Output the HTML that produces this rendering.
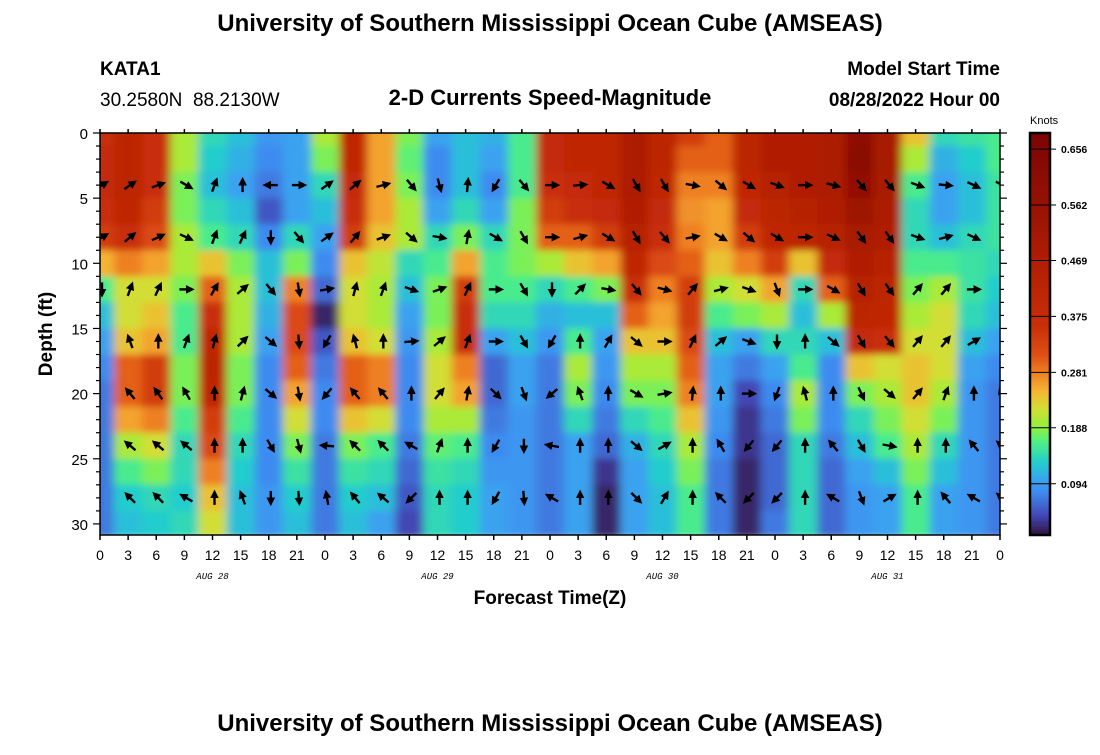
<!DOCTYPE html>
<html><head><meta charset="utf-8"><style>
body{margin:0;background:#fff;}
svg text{font-family:"Liberation Sans",sans-serif;}
</style></head><body>
<svg id="chart" width="1100" height="750" xmlns="http://www.w3.org/2000/svg">
<defs><clipPath id="plotclip"><rect x="100" y="133" width="900" height="402"/></clipPath>
<filter id="soft" x="0" y="0" width="1" height="1"><feGaussianBlur stdDeviation="4.5 3.5" edgeMode="duplicate"/></filter>
<marker id="ah" viewBox="0 0 10 10" refX="4" refY="5" markerWidth="3.6" markerHeight="3.6" orient="auto"><path d="M0,0 L10,5 L0,10 z" fill="#000"/></marker></defs>
<text x="550" y="31" text-anchor="middle" font-size="24" font-weight="bold">University of Southern Mississippi Ocean Cube (AMSEAS)</text>
<text x="100" y="75" font-size="19" font-weight="bold">KATA1</text>
<text x="100" y="106" font-size="19" xml:space="preserve">30.2580N  88.2130W</text>
<text x="550" y="105" text-anchor="middle" font-size="22" font-weight="bold">2-D Currents Speed-Magnitude</text>
<text x="1000" y="75" text-anchor="end" font-size="19" font-weight="bold">Model Start Time</text>
<text x="1000" y="106" text-anchor="end" font-size="19" font-weight="bold">08/28/2022 Hour 00</text>
<g clip-path="url(#plotclip)"><g id="heat" filter="url(#soft)"></g></g>
<g id="arrows" clip-path="url(#plotclip)"></g>
<rect x="100" y="133" width="900" height="402" fill="none" stroke="#000" stroke-width="1.5"/>
<g id="axes"></g>
<text transform="translate(52,334) rotate(-90)" text-anchor="middle" font-size="19" font-weight="bold">Depth (ft)</text>
<text x="550" y="604" text-anchor="middle" font-size="19" font-weight="bold">Forecast Time(Z)</text>
<g id="cbar"></g>
<text x="1030" y="124" font-size="11">Knots</text>
<text x="550" y="731" text-anchor="middle" font-size="24" font-weight="bold">University of Southern Mississippi Ocean Cube (AMSEAS)</text>
</svg>
<script>
const hours = [0,3,6,9,12,15,18,21,24,27,30,33,36,39,42,45,48,51,54,57,60,63,66,69,72,75,78,81,84,87,90,93,96];
const depths = [0,2,4,6,8,10,12,14,16,18,20,22,24,26,28,30];
// speed[columnIndex][depthIndex] in knots
const speed = [
[0.36,0.38,0.38,0.36,0.34,0.25,0.16,0.12,0.10,0.08,0.07,0.07,0.07,0.07,0.07,0.07],
[0.42,0.42,0.42,0.40,0.36,0.28,0.22,0.22,0.24,0.30,0.30,0.26,0.20,0.16,0.13,0.12],
[0.36,0.36,0.36,0.34,0.32,0.26,0.22,0.24,0.26,0.34,0.34,0.28,0.22,0.18,0.14,0.13],
[0.20,0.20,0.18,0.18,0.20,0.20,0.18,0.16,0.16,0.18,0.18,0.16,0.14,0.14,0.13,0.14],
[0.14,0.13,0.12,0.14,0.16,0.24,0.30,0.36,0.40,0.42,0.40,0.34,0.32,0.28,0.24,0.22],
[0.12,0.11,0.10,0.12,0.14,0.18,0.20,0.20,0.20,0.18,0.18,0.16,0.14,0.13,0.12,0.12],
[0.09,0.08,0.07,0.05,0.08,0.12,0.12,0.11,0.10,0.08,0.08,0.08,0.08,0.08,0.09,0.09],
[0.10,0.10,0.10,0.10,0.14,0.18,0.28,0.32,0.32,0.30,0.26,0.22,0.18,0.15,0.13,0.12],
[0.20,0.18,0.14,0.12,0.10,0.08,0.06,0.02,0.05,0.07,0.08,0.08,0.07,0.07,0.07,0.07],
[0.40,0.40,0.38,0.36,0.34,0.24,0.22,0.22,0.24,0.30,0.30,0.24,0.18,0.15,0.13,0.12],
[0.26,0.26,0.26,0.26,0.24,0.21,0.20,0.20,0.22,0.28,0.28,0.22,0.16,0.14,0.12,0.10],
[0.18,0.17,0.18,0.20,0.20,0.14,0.12,0.10,0.09,0.08,0.08,0.08,0.07,0.06,0.05,0.04],
[0.10,0.08,0.08,0.10,0.14,0.16,0.18,0.18,0.20,0.22,0.22,0.20,0.17,0.15,0.14,0.14],
[0.12,0.12,0.12,0.14,0.18,0.26,0.34,0.36,0.36,0.28,0.26,0.20,0.16,0.14,0.13,0.13],
[0.11,0.10,0.08,0.10,0.14,0.16,0.16,0.14,0.10,0.06,0.06,0.07,0.08,0.09,0.10,0.10],
[0.16,0.16,0.16,0.18,0.18,0.18,0.16,0.14,0.12,0.10,0.10,0.09,0.09,0.09,0.09,0.09],
[0.38,0.38,0.36,0.34,0.30,0.20,0.14,0.11,0.09,0.07,0.07,0.07,0.07,0.07,0.07,0.07],
[0.40,0.40,0.38,0.36,0.30,0.24,0.16,0.12,0.16,0.20,0.18,0.14,0.10,0.10,0.10,0.10],
[0.40,0.40,0.40,0.38,0.34,0.26,0.18,0.12,0.10,0.09,0.08,0.07,0.06,0.03,0.02,0.02],
[0.48,0.48,0.48,0.46,0.44,0.40,0.36,0.30,0.24,0.20,0.18,0.14,0.11,0.10,0.10,0.10],
[0.42,0.42,0.40,0.38,0.36,0.32,0.28,0.26,0.24,0.20,0.18,0.16,0.14,0.13,0.12,0.12],
[0.34,0.30,0.28,0.27,0.28,0.30,0.34,0.34,0.32,0.30,0.28,0.24,0.20,0.18,0.16,0.16],
[0.30,0.30,0.28,0.26,0.26,0.24,0.20,0.16,0.12,0.10,0.10,0.09,0.08,0.07,0.07,0.07],
[0.42,0.42,0.40,0.38,0.34,0.28,0.22,0.18,0.10,0.07,0.04,0.03,0.03,0.02,0.02,0.02],
[0.46,0.46,0.44,0.42,0.40,0.34,0.26,0.20,0.14,0.10,0.08,0.07,0.06,0.06,0.06,0.07],
[0.46,0.46,0.46,0.44,0.42,0.24,0.14,0.12,0.14,0.16,0.20,0.18,0.14,0.14,0.14,0.14],
[0.48,0.48,0.48,0.46,0.44,0.38,0.30,0.20,0.12,0.08,0.08,0.08,0.07,0.06,0.06,0.06],
[0.60,0.62,0.58,0.54,0.50,0.46,0.44,0.42,0.38,0.24,0.18,0.14,0.12,0.10,0.09,0.09],
[0.50,0.50,0.50,0.48,0.46,0.44,0.42,0.40,0.36,0.22,0.20,0.18,0.16,0.12,0.10,0.10],
[0.24,0.20,0.16,0.14,0.14,0.16,0.18,0.20,0.22,0.24,0.24,0.22,0.20,0.18,0.16,0.16],
[0.14,0.11,0.10,0.10,0.12,0.16,0.20,0.22,0.22,0.22,0.20,0.18,0.14,0.12,0.10,0.10],
[0.15,0.13,0.12,0.12,0.14,0.15,0.15,0.14,0.12,0.10,0.09,0.09,0.09,0.09,0.09,0.09],
[0.16,0.16,0.15,0.15,0.15,0.14,0.13,0.12,0.10,0.08,0.07,0.07,0.07,0.07,0.07,0.07]
];
const arrowDepths = [4,8,12,16,20,24,28];
// compass directions (deg, 0 = up) per arrow row, per hour column; null = none
const dir4  = [60,55,70,120,20,0,270,90,55,50,75,140,165,5,210,140,90,85,120,150,150,100,130,120,110,90,105,140,140,110,95,115,120];
const dir8  = [60,50,65,115,20,25,180,140,55,40,70,130,100,10,120,150,90,75,120,150,140,80,120,130,120,90,115,145,145,110,75,115,null];
const dir12 = [180,20,25,90,30,50,140,170,80,15,20,110,70,25,90,150,180,45,100,140,105,40,75,110,160,90,120,150,145,40,40,90,null];
const dir16 = [null,340,0,20,15,45,130,175,210,345,0,85,50,20,90,150,210,0,30,130,90,25,50,110,180,0,130,150,140,40,40,60,null];
const dir20 = [null,320,325,330,0,15,130,170,220,320,320,0,40,10,135,160,230,340,0,120,80,5,0,90,200,345,0,155,130,40,20,0,340];
const dir24 = [null,310,310,310,0,0,150,165,275,315,315,300,20,0,210,180,280,0,0,130,60,0,330,220,220,0,320,150,100,0,0,320,310];
const dir28 = [null,315,315,300,0,340,180,175,350,320,310,225,0,0,210,175,300,0,0,135,30,0,315,225,225,0,300,160,60,0,320,300,310];
const arrowDirs = [dir4,dir8,dir12,dir16,dir20,dir24,dir28];
const xTickLabels = ['0','3','6','9','12','15','18','21','0','3','6','9','12','15','18','21','0','3','6','9','12','15','18','21','0','3','6','9','12','15','18','21','0'];
const yTicks = [0,5,10,15,20,25,30];
const dateLabels = ['AUG 28','AUG 29','AUG 30','AUG 31'];
const dateHours = [12,36,60,84];
const cbarTicks = [0.094,0.188,0.281,0.375,0.469,0.562,0.656];

const NS='http://www.w3.org/2000/svg';
const X0=100,X1=1000,Y0=133,Y1=535,TMAX=96,DMAX=30.85;
const xs=t=>X0+(t/TMAX)*(X1-X0);
const ys=d=>Y0+(d/DMAX)*(Y1-Y0);
const CB0=0.008,CB1=0.683;
const cbY=v=>Y1-(v-CB0)/(CB1-CB0)*(Y1-Y0);
const stops=[[0.008,[48,18,59]],[0.04,[66,70,180]],[0.08,[62,139,240]],[0.10,[58,162,240]],[0.13,[36,205,205]],[0.165,[80,240,130]],[0.19,[150,240,60]],[0.22,[210,222,52]],[0.25,[245,180,50]],[0.28,[238,128,36]],[0.31,[222,80,20]],[0.36,[200,46,8]],[0.45,[180,32,4]],[0.56,[152,18,4]],[0.683,[122,4,3]]];
function color(v){
  if(v<=stops[0][0])return 'rgb('+stops[0][1]+')';
  for(let i=1;i<stops.length;i++){if(v<=stops[i][0]){const a=stops[i-1],b=stops[i],f=(v-a[0])/(b[0]-a[0]);return 'rgb('+a[1].map((c,k)=>Math.round(c+(b[1][k]-c)*f)).join(',')+')';}}
  return 'rgb('+stops[stops.length-1][1]+')';
}
function mk(tag,attrs,parent){const e=document.createElementNS(NS,tag);for(const k in attrs)e.setAttribute(k,attrs[k]);parent.appendChild(e);return e;}

const heat=document.getElementById('heat');
hours.forEach((t,i)=>{depths.forEach((d,j)=>{
  const xa=xs(t-1.5),xb=xs(t+1.5),ya=ys(d-1),yb=ys(d+1);
  const r=mk('rect',{x:xa.toFixed(2),y:ya.toFixed(2),width:(xb-xa+0.6).toFixed(2),height:(yb-ya+0.6).toFixed(2),fill:color(speed[i][j])},heat);
  
  
});});

const arrows=document.getElementById('arrows');
arrowDepths.forEach((d,r)=>{hours.forEach((t,i)=>{
  const a=arrowDirs[r][i]; if(a===null||a===undefined)return;
  const cx=xs(t)+2,cy=ys(d),L=7,rad=a*Math.PI/180;
  const dx=Math.sin(rad)*L,dy=-Math.cos(rad)*L;
  const ln=mk('line',{x1:(cx-dx).toFixed(1),y1:(cy-dy).toFixed(1),x2:(cx+dx*0.45).toFixed(1),y2:(cy+dy*0.45).toFixed(1),stroke:'#000','stroke-width':2.4,'marker-end':'url(#ah)'},arrows);
  
  
});});

const axes=document.getElementById('axes');
xTickLabels.forEach((lab,i)=>{
  const x=xs(i*3);
  mk('line',{x1:x,y1:Y1,x2:x,y2:Y1+5,stroke:'#000','stroke-width':1.5},axes);
  mk('line',{x1:x,y1:Y0-4,x2:x,y2:Y0,stroke:'#000','stroke-width':1.5},axes);
  const tx=mk('text',{x:x,y:Y1+25,'text-anchor':'middle','font-size':14},axes);
  tx.textContent=lab;
  
  
});
for(let d=0;d<=30;d++){
  const y=ys(d),len=d%5===0?7:4;
  mk('line',{x1:X0-len,y1:y,x2:X0,y2:y,stroke:'#000','stroke-width':1.2},axes);
  mk('line',{x1:X1,y1:y,x2:X1+len,y2:y,stroke:'#000','stroke-width':1.2},axes);
}
yTicks.forEach(d=>{
  const tx=mk('text',{x:88,y:ys(d)+6,'text-anchor':'end','font-size':15},axes);
  tx.textContent=d;
  
  
});
dateLabels.forEach((lab,i)=>{
  const tx=mk('text',{x:xs(dateHours[i]),y:579,'text-anchor':'middle','font-size':9,'font-style':'italic'},axes);
  tx.setAttribute('style','font-family:"Liberation Mono",monospace');
  tx.textContent=lab;
  
  
});

const cbar=document.getElementById('cbar');
for(let y=Y0;y<Y1;y+=2){
  mk('rect',{x:1030,y:y,width:20,height:2.6,fill:color(CB0+(Y1-y-1)/(Y1-Y0)*(CB1-CB0))},cbar);
}
cbarTicks.forEach(v=>{
  const y=cbY(v);
  mk('line',{x1:1030,y1:y,x2:1056,y2:y,stroke:'#000','stroke-width':1},cbar);
  const tx=mk('text',{x:1061,y:y+4,'font-size':10.5,'font-weight':'bold'},cbar);
  tx.textContent=v.toFixed(3);
  
  
});
mk('rect',{x:1030,y:Y0,width:20,height:Y1-Y0,fill:'none',stroke:'#000','stroke-width':2.5},cbar);
</script>
</body></html>
